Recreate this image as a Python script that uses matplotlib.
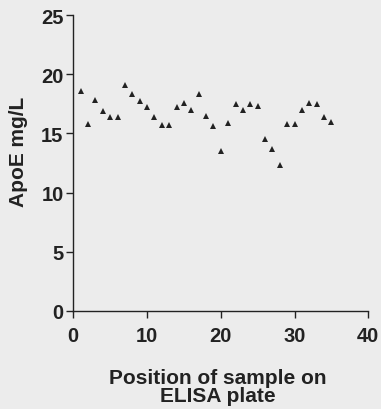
import matplotlib
matplotlib.use("Agg")
import matplotlib.pyplot as plt

# Sample positions on the plate and measured ApoE (mg/L)
positions = list(range(1, 36))
apoe = [18.6, 15.8, 17.8, 16.9, 16.4, 16.4, 19.1, 18.3, 17.7, 17.2,
        16.4, 15.7, 15.7, 17.2, 17.6, 17.0, 18.35, 16.5, 15.6, 13.5,
        15.9, 17.5, 17.0, 17.5, 17.3, 14.5, 13.7, 12.3, 15.8, 15.8,
        17.0, 17.6, 17.45, 16.4, 16.0]

x_ticks = [0, 10, 20, 30, 40]
y_ticks = [0, 5, 10, 15, 20, 25]

bg = "#ececec"
ink = "#222222"

plt.rcParams['font.family'] = ['Liberation Sans', 'DejaVu Sans']

fig = plt.figure(figsize=(3.81, 4.10), dpi=100, facecolor=bg)
ax = fig.add_axes([73.3 / 381, 98 / 410, 295 / 381, 296 / 410])
ax.set_facecolor(bg)

ax.plot(positions, apoe, linestyle="none", marker="^", markersize=5,
        color=ink, markeredgewidth=0)

ax.set_xlim(0, 40)
ax.set_ylim(0, 25)
ax.set_xticks(x_ticks)
ax.set_yticks(y_ticks)

for side in ["top", "right"]:
    ax.spines[side].set_visible(False)
for side in ["left", "bottom"]:
    ax.spines[side].set_color(ink)
    ax.spines[side].set_linewidth(1.0)

ax.tick_params(axis="both", direction="out", length=5, width=1.0,
               color=ink, labelcolor=ink, labelsize=14.5)
ax.tick_params(axis="x", pad=6)
ax.tick_params(axis="y", pad=2)
for lbl in ax.get_xticklabels() + ax.get_yticklabels():
    lbl.set_fontweight("bold")

ax.set_ylabel("ApoE mg/L", fontsize=15, fontweight="bold", color=ink)
ax.yaxis.set_label_coords(-0.155, 0.54)
ax.set_xlabel("Position of sample on\nELISA plate", fontsize=15,
              fontweight="bold", color=ink, linespacing=0.9)
ax.xaxis.set_label_coords(0.49, -0.193)

fig.savefig("out.png", dpi=100, facecolor=bg)
